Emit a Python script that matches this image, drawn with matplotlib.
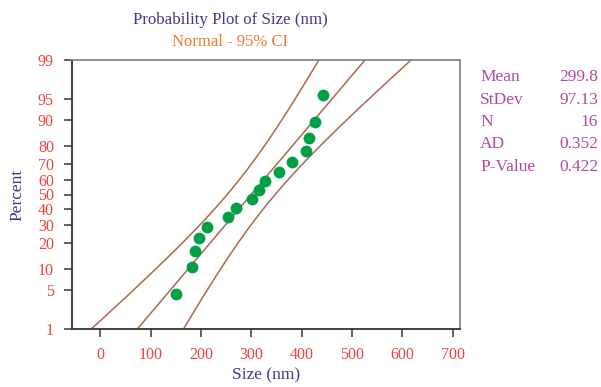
import numpy as np
import matplotlib.pyplot as plt
from statistics import NormalDist

plt.rcParams['font.family'] = ['Liberation Serif', 'DejaVu Serif']

# sizes (nm), sorted
sizes = [150, 183, 189, 197, 213, 253, 270, 301, 315, 327, 356, 380, 409, 414, 426, 442]
mean, stdev, n = 299.8, 97.13, 16
ad, pval = 0.352, 0.422
pct_ticks = [1, 5, 10, 20, 30, 40, 50, 60, 70, 80, 90, 95, 99]
x_ticks = [0, 100, 200, 300, 400, 500, 600, 700]

nd = NormalDist()
z = lambda p: nd.inv_cdf(p)

# median rank plotting positions
ranks = np.arange(1, n + 1)
pp = (ranks - 0.3) / (n + 0.4)
zp = [z(p) for p in pp]

# fitted line and 95% CI
zz = np.linspace(z(0.005), z(0.995), 300)
xfit = mean + zz * stdev
se = stdev / np.sqrt(n) * np.sqrt(1 + zz ** 2 / 2)
xlo = xfit - 1.96 * se
xhi = xfit + 1.96 * se

navy = '#3c3c8c'
red = '#f04040'
line_c = '#a86a50'

fig = plt.figure(figsize=(6.01, 3.87), dpi=100)
ax = fig.add_axes([72 / 601, 1 - 329 / 387, 388 / 601, 269 / 387])

for xs in (xlo, xfit, xhi):
    ax.plot(xs, zz, color=line_c, lw=1.1)
ax.plot(sizes, zp, 'o', color='#00a046', ms=8.5, mec='none', zorder=3)

ax.set_xlim(-56, 714.5)
ax.set_ylim(z(0.01), z(0.99))
ax.set_yticks([z(p / 100) for p in pct_ticks])
ax.set_yticklabels([str(p) for p in pct_ticks])
ax.set_xticks(x_ticks)
ax.tick_params(colors='#555555', labelcolor=red, labelsize=11.5, length=6, width=1.3)
ax.tick_params(axis='y', pad=7)
ax.tick_params(axis='x', pad=7)
for s in ('left', 'bottom'):
    ax.spines[s].set_color('#333333')
    ax.spines[s].set_linewidth(1.3)
for s in ('top', 'right'):
    ax.spines[s].set_color('#888888')
    ax.spines[s].set_linewidth(1.3)

ax.set_xlabel('Size (nm)', color=navy, fontsize=12.5, labelpad=3)
ax.set_ylabel('Percent', color=navy, fontsize=12.5, labelpad=9)

fig.text(230 / 601, 1 - 20 / 387, 'Probability Plot of Size (nm)', color=navy,
         fontsize=12.2, ha='center', va='center')
fig.text(230 / 601, 1 - 42 / 387, 'Normal - 95% CI', color='#f07830',
         fontsize=12, ha='center', va='center')

stat_names = ['Mean', 'StDev', 'N', 'AD', 'P-Value']
stat_vals = [f'{mean:.1f}', f'{stdev:.2f}', str(n), f'{ad:.3f}', f'{pval:.3f}']
for i, (nm, v) in enumerate(zip(stat_names, stat_vals)):
    y = 1 - (77 + i * 22.5) / 387
    fig.text(480 / 601, y, nm, color='#b04aa0', fontsize=12.5, va='center')
    fig.text(598 / 601, y, v, color='#b04aa0', fontsize=12.5, va='center', ha='right')

fig.savefig('out.png', dpi=100)
